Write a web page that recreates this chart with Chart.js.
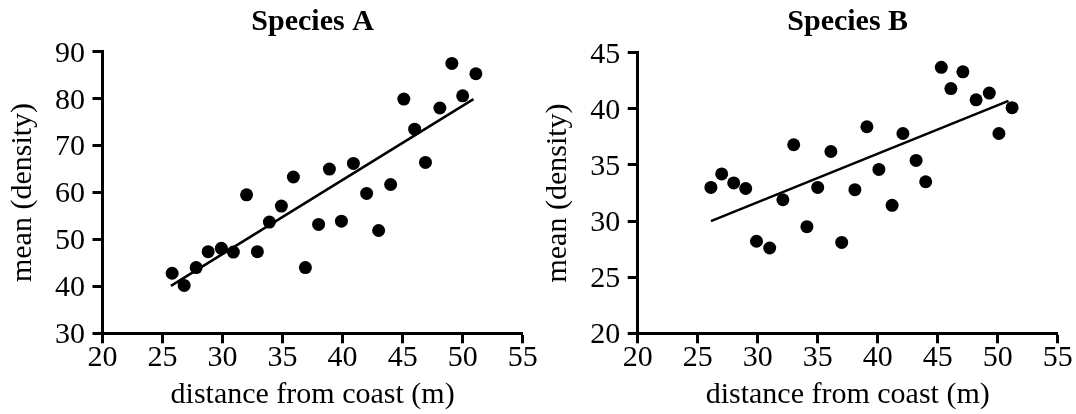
<!DOCTYPE html>
<html>
<head>
<meta charset="utf-8">
<script src="https://cdn.jsdelivr.net/npm/chart.js@4/dist/chart.umd.min.js"></script>
<style>
  html, body { margin: 0; padding: 0; background: #fff; }
  #wrap { position: relative; width: 1076px; height: 414px; overflow: hidden; }
  #cA { position: absolute; left: 0; top: 0; }
  #cB { position: absolute; left: 540px; top: 0; }
</style>
</head>
<body>
<div id="wrap">
  <canvas id="cA" width="540" height="414"></canvas>
  <canvas id="cB" width="536" height="414"></canvas>
</div>
<script>
// ---- Data ----
const titleA = 'Species A';
const titleB = 'Species B';
const xTitle = 'distance from coast (m)';
const yTitle = 'mean (density)';

const xTickValues = [20, 25, 30, 35, 40, 45, 50, 55];
const yTickValuesA = [30, 40, 50, 60, 70, 80, 90];
const yTickValuesB = [20, 25, 30, 35, 40, 45];

const aX = [25.8, 26.8, 27.8, 28.8, 29.9, 30.9, 32.0, 32.9, 33.9, 34.9, 35.9, 36.9, 38.0,
            38.9, 39.9, 40.9, 42.0, 43.0, 44.0, 45.1, 46.0, 46.9, 48.1, 49.1, 50.0, 51.1];
const aY = [42.8, 40.2, 44.0, 47.4, 48.1, 47.3, 59.5, 47.4, 53.7, 57.1, 63.3, 44.0, 53.2,
            65.0, 53.9, 66.2, 59.8, 51.9, 61.7, 79.9, 73.5, 66.4, 78.0, 87.5, 80.6, 85.3];
const aFitX = [25.7, 50.9];
const aFitY = [40.1, 79.9];

const bX = [26.1, 27.0, 28.0, 29.0, 29.9, 31.0, 32.1, 33.0, 34.1, 35.0, 36.1, 37.0, 38.1,
            39.1, 40.1, 41.2, 42.1, 43.2, 44.0, 45.3, 46.1, 47.1, 48.2, 49.3, 50.1, 51.2];
const bY = [33.0, 34.2, 33.4, 32.9, 28.2, 27.6, 31.9, 36.8, 29.5, 33.0, 36.2, 28.1, 32.8,
            38.4, 34.6, 31.4, 37.8, 35.4, 33.5, 43.7, 41.8, 43.3, 40.8, 41.4, 37.8, 40.1];
const bFitX = [26.1, 50.9];
const bFitY = [30.0, 40.7];

// ---- Helpers ----
const FONT = "'Liberation Serif', 'Times New Roman', Times, serif";
const toPts = (xs, ys) => xs.map((x, i) => ({ x: x, y: ys[i] }));

function makeChart(canvas, cfg) {
  const yTicks = cfg.yTicks;
  return new Chart(canvas, {
    type: 'scatter',
    data: {
      datasets: [
        {
          data: toPts(cfg.xs, cfg.ys),
          backgroundColor: '#000',
          borderColor: '#000',
          pointRadius: 6.5,
          pointHoverRadius: 6.5,
          borderWidth: 0,
          showLine: false
        },
        {
          data: toPts(cfg.fx, cfg.fy),
          showLine: true,
          borderColor: '#000',
          borderWidth: 2.5,
          pointRadius: 0,
          pointHoverRadius: 0,
          fill: false
        }
      ]
    },
    options: {
      responsive: false,
      animation: false,
      devicePixelRatio: 1,
      layout: { padding: { left: 0, right: cfg.rightPad, top: 0, bottom: 0 } },
      plugins: {
        legend: { display: false },
        tooltip: { enabled: false },
        title: {
          display: true,
          text: cfg.title,
          fullSize: false,
          color: '#000',
          font: { family: FONT, size: 30, weight: 'bold', lineHeight: 1.2 },
          padding: { top: 4.5, bottom: cfg.titleBottom }
        }
      },
      scales: {
        x: {
          type: 'linear',
          min: xTickValues[0],
          max: xTickValues[xTickValues.length - 1],
          afterBuildTicks: s => { s.ticks = xTickValues.map(v => ({ value: v })); },
          ticks: {
            color: '#000',
            font: { family: FONT, size: 30, lineHeight: 1 },
            padding: 0,
            maxRotation: 0,
            autoSkip: false
          },
          grid: {
            drawOnChartArea: false,
            drawTicks: true,
            tickLength: 10,
            tickWidth: 3,
            tickColor: '#000',
            color: '#000'
          },
          border: { display: true, color: '#000', width: 3 },
          title: {
            display: true,
            text: xTitle,
            color: '#000',
            font: { family: FONT, size: 30, lineHeight: 1.2 },
            padding: { top: 0, bottom: 1 }
          },
          afterFit: s => { s.height = 80.7; }
        },
        y: {
          type: 'linear',
          min: yTicks[0],
          max: yTicks[yTicks.length - 1],
          afterBuildTicks: s => { s.ticks = yTicks.map(v => ({ value: v })); },
          ticks: {
            color: '#000',
            font: { family: FONT, size: 30, lineHeight: 1 },
            padding: 7.5,
            labelOffset: 2,
            autoSkip: false
          },
          grid: {
            drawOnChartArea: false,
            drawTicks: true,
            tickLength: 10,
            tickWidth: 3,
            tickColor: '#000',
            color: '#000'
          },
          border: { display: true, color: '#000', width: 3 },
          title: {
            display: true,
            text: yTitle,
            color: '#000',
            font: { family: FONT, size: 30, lineHeight: 1.2 },
            padding: { top: cfg.yTitlePad, bottom: 0 }
          },
          afterFit: s => { s.width = cfg.yAxisWidth; }
        }
      }
    }
  });
}

makeChart(document.getElementById('cA'), {
  title: titleA, xs: aX, ys: aY, fx: aFitX, fy: aFitY, yTicks: yTickValuesA,
  rightPad: 17.3, titleBottom: 11.2, yAxisWidth: 102.5, yTitlePad: 5.4
});
makeChart(document.getElementById('cB'), {
  title: titleB, xs: bX, ys: bY, fx: bFitX, fy: bFitY, yTicks: yTickValuesB,
  rightPad: 18.3, titleBottom: 12.2, yAxisWidth: 97.7, yTitlePad: 0.6
});
</script>
</body>
</html>
